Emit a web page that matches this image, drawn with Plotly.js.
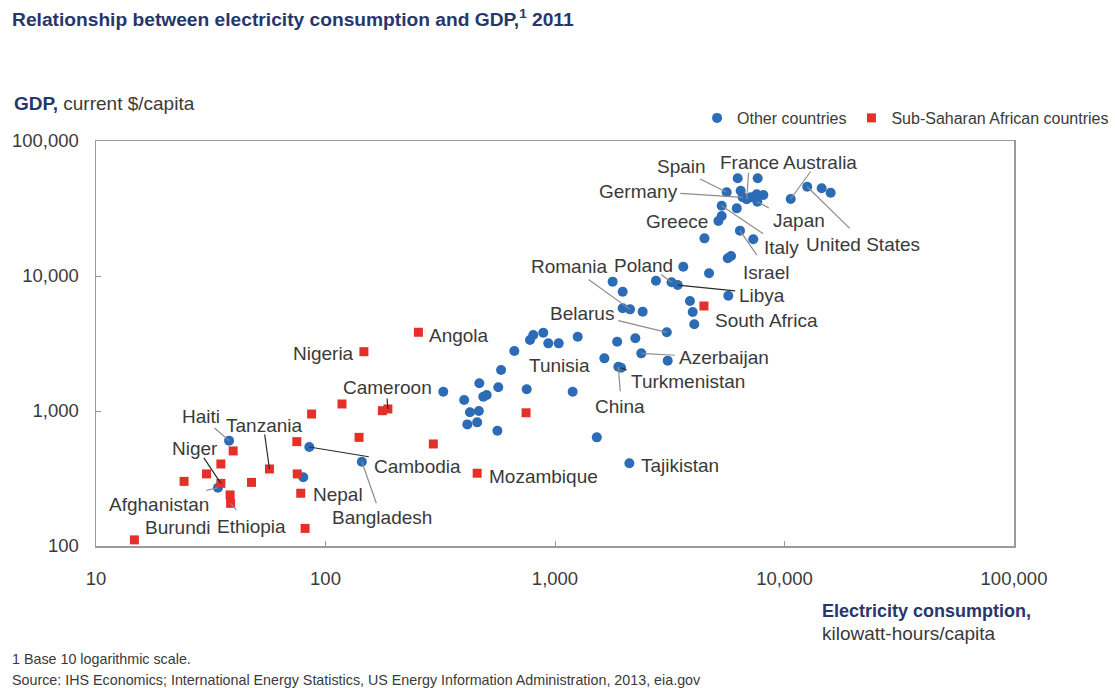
<!DOCTYPE html>
<html>
<head>
<meta charset="utf-8">
<script src="https://cdn.plot.ly/plotly-3.0.1.min.js"></script>
<style>
  html, body { margin: 0; padding: 0; background: #ffffff; }
  #chart { width: 1115px; height: 688px; }
</style>
</head>
<body>
<div id="chart"></div>
<script>
// Electricity consumption (kWh per capita) vs GDP (current $ per capita), 2011

// Other countries
const otherKwh = [38, 85, 144, 34, 80, 326, 402, 426, 466, 415, 458, 561, 504, 487, 468, 566, 582, 753, 665, 778,
  804, 889, 935, 1038, 1256, 1194, 1521, 2109, 1641, 1888, 1940, 1866, 2239, 2377, 3098, 3070, 1972, 2123, 2410, 1783,
  1972, 2754, 3221, 3426, 5690, 3873, 3981, 4045, 3622, 4690, 5660, 5850, 4479, 6397, 7311, 5150, 5324, 5324, 6194, 5598,
  6441, 6574, 6844, 7143, 7565, 8088, 7616, 6252, 7640, 10640, 12560, 14520, 15890];
const otherGdp = [603, 541, 421, 270, 323, 1390, 1205, 978, 1000, 796, 824, 714, 1315, 1276, 1603, 1500, 2014, 1449, 2783, 3357,
  3656, 3802, 3170, 3170, 3548, 1390, 638, 410, 2455, 2128, 2090, 3258, 3459, 2673, 2360, 3828, 5770, 5660, 5445, 9080,
  7655, 9225, 8980, 8570, 7145, 6535, 5408, 4385, 11720, 10480, 13520, 14060, 19010, 21680, 18710, 25520, 27810, 33170, 31700, 41690,
  42830, 38290, 37010, 38290, 40300, 39810, 35480, 52970, 52970, 37170, 45800, 44640, 41390];
const otherNames = ['Haiti', 'Cambodia', 'Bangladesh', 'Afghanistan', 'Nepal', '', '', '', '', '', '', '', '', '', '', '', '', '', '', '',
  '', '', '', 'Tunisia', '', '', '', 'Tajikistan', '', 'China', 'Turkmenistan', '', '', 'Azerbaijan', '', 'Belarus', '', 'Romania', '', '',
  '', '', 'Poland', 'Libya', '', '', '', '', '', '', '', '', '', 'Israel', '', 'Greece', '', 'Italy', '', 'Spain',
  '', 'Germany', 'France', '', '', '', 'Japan', '', '', 'Australia', 'United States', '', ''];

// Sub-Saharan African countries
const ssaKwh = [254, 147, 118, 87, 177, 187, 39.6, 75, 140, 295, 35, 30.3, 24.2, 57, 35, 47.6, 75.3, 38.4, 38.6, 78,
  81.5, 14.7, 748, 458, 4457];
const ssaGdp = [3830, 2750, 1127, 950, 1005, 1035, 506, 593, 638, 570, 405, 342, 301, 372, 291, 296, 342, 239, 207, 246,
  135, 111, 970, 346, 5995];
const ssaNames = ['Angola', 'Nigeria', '', '', '', 'Cameroon', '', '', '', '', '', '', '', 'Tanzania', 'Niger', '', '', '', 'Ethiopia', '',
  '', 'Burundi', '', 'Mozambique', 'South Africa'];

// Axis ticks
const xTickVals = [10, 100, 1000, 10000, 100000];
const xTickText = ['10', '100', '1,000', '10,000', '100,000'];
const yTickVals = [100, 1000, 10000, 100000];
const yTickText = ['100', '1,000', '10,000', '100,000'];

// Country label placement: text centre and leader-line start, as pixel offsets from the marker (y down)
const labelPlacement = {
  'Haiti':         { text: [-28, -24], line: [-16, -14], tone: 'gray' },
  'Tanzania':      { text: [-5, -43],  line: [-5, -36],  tone: 'dark' },
  'Niger':         { text: [-26, -35], line: [-18, -27], tone: 'dark' },
  'Afghanistan':   { text: [-59, 17],  line: [-13, 3],   tone: 'gray' },
  'Burundi':       { text: [44, -12] },
  'Ethiopia':      { text: [21, 23],   line: [7, 8],     tone: 'gray' },
  'Nepal':         { text: [35, 17] },
  'Bangladesh':    { text: [20, 56],   line: [15, 43],   tone: 'gray' },
  'Cambodia':      { text: [108, 19],  line: [61, 10],   tone: 'dark' },
  'Cameroon':      { text: [0, -21],   line: [-1, -12],  tone: 'dark' },
  'Nigeria':       { text: [-40, 2] },
  'Angola':        { text: [41, 3] },
  'Mozambique':    { text: [66, 3] },
  'Tajikistan':    { text: [51, 2] },
  'Tunisia':       { text: [1, 22] },
  'China':         { text: [2, 40],    line: [2, 26],    tone: 'gray' },
  'Turkmenistan':  { text: [67, 14],   line: [7, 3],     tone: 'dark' },
  'Azerbaijan':    { text: [83, 4],    line: [35, 2],    tone: 'gray' },
  'Belarus':       { text: [-85, -19], line: [-50, -12], tone: 'gray' },
  'Romania':       { text: [-61, -43], line: [-43, -31], tone: 'gray' },
  'Poland':        { text: [-28, -17], line: [-12, -9],  tone: 'gray' },
  'Libya':         { text: [84, 10],   line: [59, 6],    tone: 'dark' },
  'South Africa':  { text: [63, 14] },
  'Israel':        { text: [26, 42],   line: [18, 26],   tone: 'gray' },
  'Italy':         { text: [60, 42],   line: [43, 29],   tone: 'gray' },
  'Greece':        { text: [-41, 0] },
  'Japan':         { text: [42, 19],   line: [13, 7],    tone: 'gray' },
  'Germany':       { text: [-104, -6], line: [-64, -4],  tone: 'gray' },
  'Spain':         { text: [-45, -26], line: [-28, -14], tone: 'gray' },
  'France':        { text: [3, -37],   line: [2, -28],   tone: 'gray' },
  'Australia':     { text: [29, -37],  line: [21, -29],  tone: 'gray' },
  'United States': { text: [56, 58],   line: [44, 43],   tone: 'gray' }
};

const FONT = '"Liberation Sans", Arial, Helvetica, sans-serif';
const NAVY = '#27366b';
const TEXT = '#3a3a3a';
const BLUE = '#2c6cb6';
const RED = '#e5302a';
const LINE_TONES = { gray: '#8c8c8c', dark: '#2a2a2a' };

const traces = [
  {
    type: 'scatter', mode: 'markers', name: 'Other countries',
    x: otherKwh, y: otherGdp, text: otherNames,
    marker: { symbol: 'circle', size: 10, color: BLUE, line: { width: 0 } },
    hoverinfo: 'text+x+y'
  },
  {
    type: 'scatter', mode: 'markers', name: 'Sub-Saharan African countries',
    x: ssaKwh, y: ssaGdp, text: ssaNames,
    marker: { symbol: 'square', size: 9, color: RED, line: { width: 0 } },
    hoverinfo: 'text+x+y'
  }
];

const annotations = [];
function addLabels(xs, ys, names) {
  names.forEach((name, i) => {
    if (!name) return;
    const p = labelPlacement[name];
    if (!p) return;
    // annotations on log axes take log10 positions
    const lx = Math.log10(xs[i]);
    const ly = Math.log10(ys[i]);
    if (p.line) {
      // leader line: bare arrow from its start offset to the marker
      annotations.push({
        x: lx, y: ly, xref: 'x', yref: 'y', text: '',
        showarrow: true, arrowhead: 0, arrowwidth: 1.2, standoff: 0,
        arrowcolor: LINE_TONES[p.tone], ax: p.line[0], ay: p.line[1],
        font: { size: 1 }
      });
    }
    annotations.push({
      x: lx, y: ly, xref: 'x', yref: 'y', text: name, showarrow: false,
      xanchor: 'center', yanchor: 'middle',
      xshift: p.text[0], yshift: -p.text[1],
      font: { family: FONT, size: 19, color: TEXT }
    });
  });
}
addLabels(otherKwh, otherGdp, otherNames);
addLabels(ssaKwh, ssaGdp, ssaNames);

// Axis titles and notes
annotations.push(
  {
    xref: 'paper', yref: 'paper', x: -0.0915, y: 1.0938, xanchor: 'left', yanchor: 'middle',
    showarrow: false, align: 'left',
    text: '<b><span style="color:' + NAVY + '">GDP,</span></b> current $/capita',
    font: { family: FONT, size: 19, color: TEXT }
  },
  {
    xref: 'paper', yref: 'paper', x: 0.7887, y: -0.1877, xanchor: 'left', yanchor: 'middle',
    showarrow: false, align: 'left',
    text: '<b><span style="color:' + NAVY + '">Electricity consumption,</span></b><br><span style="font-size:19px">kilowatt-hours/capita</span>',
    font: { family: FONT, size: 18, color: TEXT }
  },
  {
    xref: 'paper', yref: 'paper', x: -0.0937, y: -0.279, xanchor: 'left', yanchor: 'middle',
    showarrow: false, align: 'left',
    text: '1 Base 10 logarithmic scale.',
    font: { family: FONT, size: 14.3, color: TEXT }
  },
  {
    xref: 'paper', yref: 'paper', x: -0.0937, y: -0.331, xanchor: 'left', yanchor: 'middle',
    showarrow: false, align: 'left',
    text: 'Source: IHS Economics; International Energy Statistics, US Energy Information Administration, 2013, eia.gov',
    font: { family: FONT, size: 14.3, color: TEXT }
  }
);

const axisCommon = {
  type: 'log', showgrid: false, zeroline: false,
  showline: true, mirror: true, linecolor: '#9a9a9a', linewidth: 1.5,
  ticks: 'inside', ticklen: 5, tickwidth: 1, tickcolor: '#9a9a9a',
  tickmode: 'array', tickfont: { family: FONT, size: 18.5, color: TEXT }
};

const layout = {
  width: 1115, height: 688,
  margin: { l: 96, r: 101, t: 141, b: 142, pad: 0, autoexpand: false },
  paper_bgcolor: '#ffffff', plot_bgcolor: '#ffffff',
  font: { family: FONT, color: TEXT },
  title: {
    text: 'Relationship between electricity consumption and GDP,<sup>1</sup> 2011',
    x: 0.0108, xanchor: 'left', xref: 'container',
    y: 0.972, yanchor: 'middle', yref: 'container',
    font: { family: FONT, size: 19.2, color: NAVY, weight: 'bold' }
  },
  xaxis: Object.assign({}, axisCommon, {
    range: [1, 5], tickvals: xTickVals, ticktext: xTickText, ticklabelstandoff: 15
  }),
  yaxis: Object.assign({}, axisCommon, {
    range: [2, 5], tickvals: yTickVals, ticktext: yTickText, ticklabelstandoff: 12
  }),
  showlegend: true,
  legend: {
    orientation: 'h', x: 1.109, xanchor: 'right', y: 1.0568, yanchor: 'middle',
    font: { family: FONT, size: 16, color: TEXT },
    bgcolor: 'rgba(0,0,0,0)', itemwidth: 30, traceorder: 'normal'
  },
  annotations: annotations
};

Plotly.newPlot('chart', traces, layout, { displayModeBar: false, staticPlot: true });
</script>
</body>
</html>
